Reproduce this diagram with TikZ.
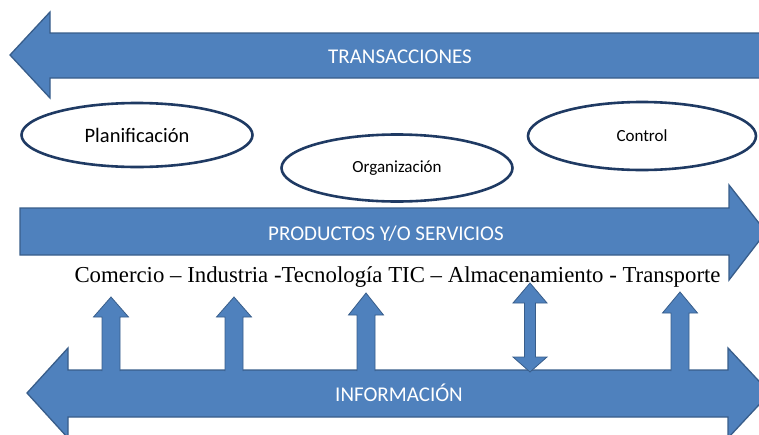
\documentclass[tikz,border=0pt]{standalone}
\usepackage{fontspec}
\setmainfont{Liberation Serif}
\newfontfamily\calib{Carlito}
\usetikzlibrary{shapes.geometric}
\definecolor{arrowblue}{HTML}{4F81BD}
\definecolor{arrowedge}{HTML}{385D8A}
\definecolor{ellipseedge}{HTML}{1F3A63}
\newcommand{\uparr}[3]{%
  \fill[arrowblue] (#1-9,372) -- (#1-9,#3) -- (#1-17.5,#3) -- (#1,#2) -- (#1+17.5,#3) -- (#1+9,#3) -- (#1+9,372) -- cycle;
  \draw[smalledge] (#1-9,371) -- (#1-9,#3) -- (#1-17.5,#3) -- (#1,#2) -- (#1+17.5,#3) -- (#1+9,#3) -- (#1+9,371);
}
\begin{document}
\begin{tikzpicture}[x=1pt,y=-1pt,
  bigarrow/.style={fill=arrowblue, draw=arrowedge, line width=1.3pt, line join=miter},
  smalledge/.style={draw=arrowedge, line width=0.8pt, line join=miter},
  oval/.style={ellipse, draw=ellipseedge, line width=2.6pt, fill=white, inner sep=0pt},
  lbl/.style={font=\calib\fontsize{21}{24}\selectfont, text=white}]
\useasboundingbox (0,0) rectangle (759,434);
\clip (0,0) rectangle (759,434);
% TRANSACCIONES arrow (left)
\draw[bigarrow] (10,55) -- (50,12) -- (50,33) -- (775,33) -- (775,78) -- (50,78) -- (50,98) -- cycle;
\node[lbl] (trans) at (400,57) {TRANSACCIONES};
% ellipses
\node[oval, minimum width=231pt, minimum height=64pt, font=\calib\fontsize{20.5}{22}\selectfont] (plan) at (137,135) {Planificación};
\node[oval, minimum width=231pt, minimum height=67pt, font=\calib\fontsize{17}{19}\selectfont] (org) at (397,168) {Organización};
\node[oval, minimum width=228pt, minimum height=68pt, font=\calib\fontsize{17}{19}\selectfont] (ctrl) at (642,136) {Control};
% PRODUCTOS arrow (right)
\draw[bigarrow] (20,208) -- (729,208) -- (729,185) -- (766,232) -- (729,280) -- (729,255) -- (20,255) -- cycle;
\node[lbl] (prod) at (386,234) {PRODUCTOS Y/O SERVICIOS};
% sectors line
\node[anchor=base, font=\fontsize{22.8}{26}\selectfont, inner sep=0pt] (sect) at (397.5,282) {Comercio – Industria -Tecnología TIC – Almacenamiento - Transporte};
% INFORMACION double arrow
\draw[bigarrow] (27,393) -- (68,348) -- (68,370) -- (728,370) -- (728,348) -- (770,393) -- (728,438) -- (728,417) -- (68,417) -- (68,438) -- cycle;
\node[lbl] (info) at (399,393) {INFORMACIÓN};
% small up arrows
\uparr{111}{297}{317}
\uparr{234}{297}{317}
\uparr{366}{293}{315}
\uparr{680}{292}{313}
% double arrow
\fill[arrowblue] (530,283) -- (547,303) -- (535.5,303) -- (535.5,357) -- (547,357) -- (530,372) -- (513,357) -- (524.5,357) -- (524.5,303) -- (513,303) -- cycle;
\draw[smalledge] (530,283) -- (547,303) -- (535.5,303) -- (535.5,357) -- (547,357) -- (530,372) -- (513,357) -- (524.5,357) -- (524.5,303) -- (513,303) -- cycle;
\end{tikzpicture}
\end{document}
